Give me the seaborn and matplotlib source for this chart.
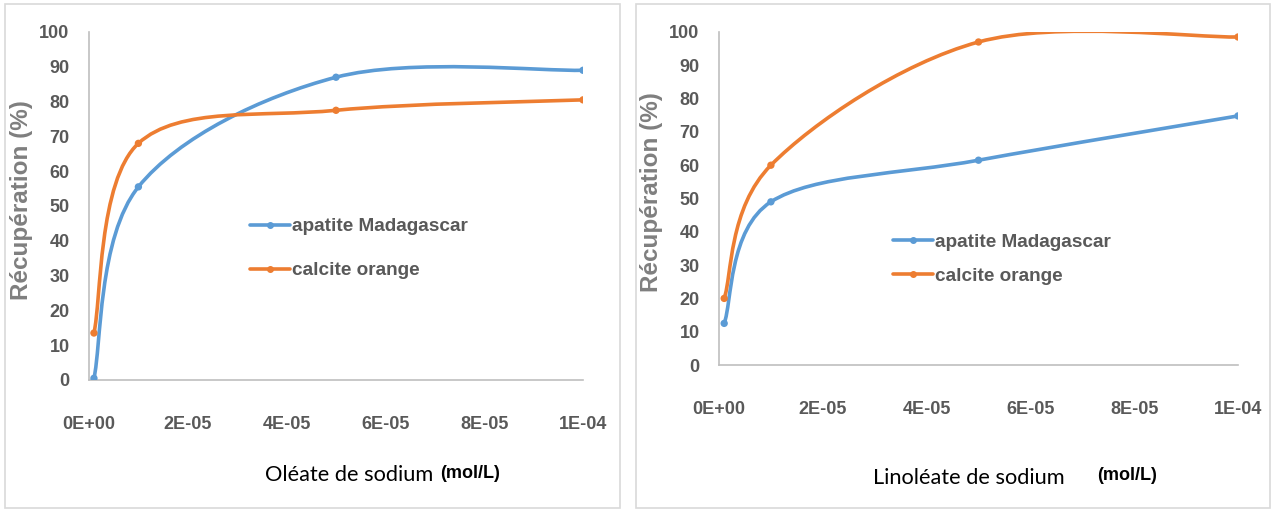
import numpy as np
import pandas as pd
import matplotlib
matplotlib.use("Agg")
import matplotlib.pyplot as plt
import seaborn as sns
from matplotlib.path import Path
from matplotlib.patches import PathPatch, Rectangle
from matplotlib.ticker import FuncFormatter

# data
conc = [1e-6, 1e-5, 5e-5, 1e-4]
oleate_apatite = [0.5, 55.5, 87.0, 89.0]
oleate_calcite = [13.5, 68.0, 77.5, 80.5]
linoleate_apatite = [12.5, 49.0, 61.5, 74.8]
linoleate_calcite = [20.0, 60.0, 97.0, 98.5]
series_names = ["apatite Madagascar", "calcite orange"]
x_ticks = [0, 2e-5, 4e-5, 6e-5, 8e-5, 1e-4]

BLUE = "#5B9BD5"
ORANGE = "#ED7D31"
GREY = "#595959"
BOLD_FONT = ["Liberation Sans", "DejaVu Sans"]

sns.set_style("white")
plt.rcParams["font.family"] = ["Lato", "DejaVu Sans"]


def smooth_path(xs, ys):
    """Excel-like smoothed line: cubic Bezier through the data points"""
    pts = np.column_stack([xs, ys])
    n = len(pts)
    verts = [pts[0]]
    codes = [Path.MOVETO]
    for i in range(n - 1):
        p0 = pts[max(i - 1, 0)]
        p1 = pts[i]
        p2 = pts[i + 1]
        p3 = pts[min(i + 2, n - 1)]
        c1 = p1 + (p2 - p0) / 6.0
        c2 = p2 - (p3 - p1) / 6.0
        verts += [c1, c2, p2]
        codes += [Path.CURVE4] * 3
    return Path(verts, codes)


def draw_panel(ax, apatite, calcite, legend_pos, spacing, ylab_xy):
    df = pd.DataFrame({
        "conc": conc * 2,
        "rec": apatite + calcite,
        "serie": [series_names[0]] * 4 + [series_names[1]] * 4,
    })
    for vals, col in [(apatite, BLUE), (calcite, ORANGE)]:
        ax.add_patch(PathPatch(smooth_path(conc, vals), facecolor="none",
                               edgecolor=col, lw=2.6, capstyle="round",
                               zorder=3))
    sns.scatterplot(data=df, x="conc", y="rec", hue="serie",
                    palette=[BLUE, ORANGE], s=28, edgecolor="none",
                    ax=ax, zorder=4, legend=False)

    ax.set_xlim(0, 1e-4)
    ax.set_ylim(0, 100)
    ax.set_xticks(x_ticks)
    ax.set_yticks(range(0, 101, 10))
    ax.xaxis.set_major_formatter(FuncFormatter(
        lambda v, p: "0E+00" if v == 0 else "%.0E" % v))
    ax.set_xlabel("")
    ax.set_ylabel("Récupération (%)", fontsize=17.5, fontweight="bold",
                  color="#7F7F7F", family=BOLD_FONT)
    ax.yaxis.set_label_coords(*ylab_xy)
    for s in ["top", "right"]:
        ax.spines[s].set_visible(False)
    for s in ["left", "bottom"]:
        ax.spines[s].set_color("#BFBFBF")
        ax.spines[s].set_linewidth(1.2)
    ax.tick_params(axis="both", colors="#BFBFBF", direction="out",
                   length=6, width=1.2, labelcolor=GREY, labelsize=13)
    ax.tick_params(axis="x", pad=20)
    ax.tick_params(axis="y", pad=8)
    for lab in ax.get_xticklabels() + ax.get_yticklabels():
        lab.set_fontweight("bold")
        lab.set_family(BOLD_FONT)

    # legend drawn like the Excel one (no frame)
    handles = [plt.Line2D([], [], color=BLUE, lw=2.6, marker="o", ms=4),
               plt.Line2D([], [], color=ORANGE, lw=2.6, marker="o", ms=4)]
    leg = ax.legend(handles, series_names, loc="upper left",
                    bbox_to_anchor=legend_pos, frameon=False,
                    prop={"family": BOLD_FONT, "weight": "bold", "size": 13.7},
                    handlelength=2.1, handletextpad=0.1,
                    labelspacing=spacing, borderaxespad=0, borderpad=0)
    for t in leg.get_texts():
        t.set_color(GREY)


fig = plt.figure(figsize=(12.74, 5.13), dpi=100)
W, H = 1274, 513

# panel frames
fig.patches.append(Rectangle((5 / W, 5 / H), 615 / W, 504 / H,
                             transform=fig.transFigure, fill=False,
                             edgecolor="#D9D9D9", lw=1.2))
fig.patches.append(Rectangle((636 / W, 5 / H), 634 / W, 504 / H,
                             transform=fig.transFigure, fill=False,
                             edgecolor="#D9D9D9", lw=1.2))

ax1 = fig.add_axes([89 / W, (H - 380) / H, 494 / W, 348 / H])
ax2 = fig.add_axes([719 / W, (H - 365) / H, 519 / W, 333 / H])

draw_panel(ax1, oleate_apatite, oleate_calcite, (0.326, 0.465), 1.4,
           (-0.113, 0.517))
draw_panel(ax2, linoleate_apatite, linoleate_calcite, (0.335, 0.395), 0.89,
           (-0.108, 0.52))

fig.text(265 / W, 1 - 475 / H, "Oléate de sodium", fontsize=15.7,
         va="center", ha="left", color="black")
fig.text(440 / W, 1 - 473 / H, "(mol/L)", fontsize=13, fontweight="bold",
         family=BOLD_FONT, va="center", ha="left", color="black")
fig.text(873 / W, 1 - 478 / H, "Linoléate de sodium", fontsize=15.7,
         va="center", ha="left", color="black")
fig.text(1097 / W, 1 - 476 / H, "(mol/L)", fontsize=13, fontweight="bold",
         family=BOLD_FONT, va="center", ha="left", color="black")

fig.savefig("out.png", dpi=100)
